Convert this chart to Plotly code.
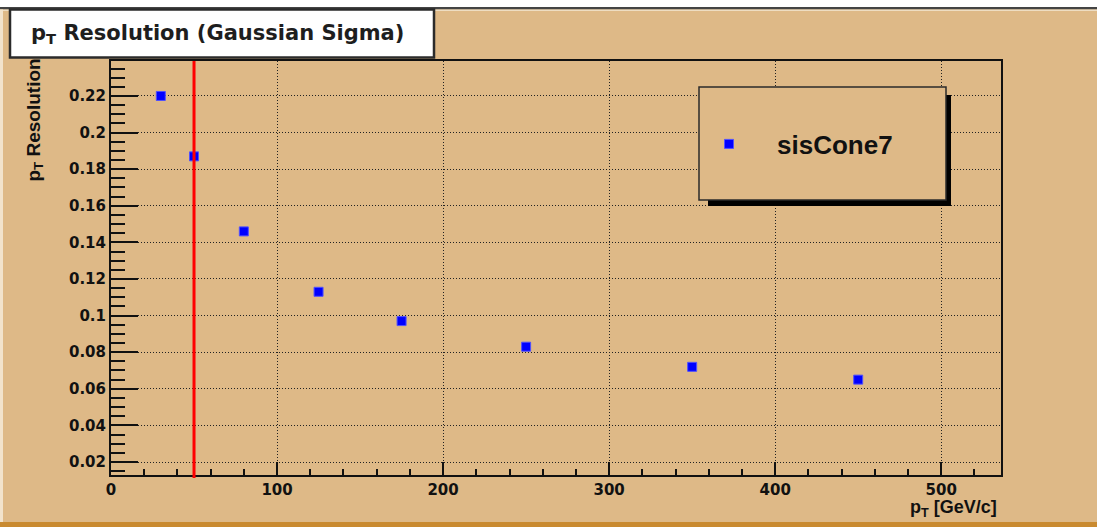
import plotly.graph_objects as go

# ---- data ----
pt_values = [30, 50, 80, 125, 175, 250, 350, 450]
resolution = [0.220, 0.187, 0.146, 0.113, 0.097, 0.083, 0.072, 0.065]
series_name = "sisCone7"
threshold_pt = 50

x_tickvals = [0, 100, 200, 300, 400, 500]
x_ticktext = ["0", "100", "200", "300", "400", "500"]
y_tickvals = [0.02, 0.04, 0.06, 0.08, 0.10, 0.12, 0.14, 0.16, 0.18, 0.20, 0.22]
y_ticktext = ["0.02", "0.04", "0.06", "0.08", "0.1", "0.12", "0.14", "0.16", "0.18", "0.2", "0.22"]

# ---- geometry helpers (pixels -> paper) ----
W_FIG, H_FIG = 1097, 527
L, R, T, B = 111, 1001, 61, 475
PW, PH = R - L, B - T


def px(xp):
    return (xp - L) / PW


def py(yp):
    return (B - yp) / PH


TAN = "#DEB987"
INK = "#111111"

fig = go.Figure()
fig.add_trace(go.Scatter(
    x=pt_values, y=resolution, mode="markers", name=series_name,
    marker=dict(symbol="square", size=9, color="#0000FF",
                line=dict(color="#5050FF", width=1)),
))

axis_common = dict(
    showline=True, linecolor="#111111", linewidth=2, mirror=True,
    ticks="inside", tickcolor="#111111", tickwidth=2,
    showgrid=True, gridcolor="#222222", gridwidth=1, griddash="1px,2px",
    zeroline=False,
    tickfont=dict(family="DejaVu Sans", size=15, color=INK, weight="bold"),
)

fig.update_xaxes(
    range=[0, 536], tickmode="array", tickvals=x_tickvals, ticktext=x_ticktext,
    ticklen=13,
    minor=dict(ticks="inside", ticklen=6, dtick=20, tick0=0,
               tickcolor="#111111", tickwidth=1.5, showgrid=False),
    **axis_common,
)
fig.update_yaxes(
    range=[0.0129, 0.2391], tickmode="array", tickvals=y_tickvals, ticktext=y_ticktext,
    ticklen=27,
    minor=dict(ticks="inside", ticklen=14, dtick=0.005, tick0=0,
               tickcolor="#111111", tickwidth=1.5, showgrid=False),
    **axis_common,
)

shapes = []
# canvas decorations
shapes.append(dict(type="rect", xref="paper", yref="paper", x0=px(0), x1=px(W_FIG),
                   y0=py(7.5), y1=py(0), fillcolor="white", line=dict(width=0), layer="above"))
shapes.append(dict(type="rect", xref="paper", yref="paper", x0=px(0), x1=px(W_FIG),
                   y0=py(9.5), y1=py(7), fillcolor="#444444", line=dict(width=0), layer="above"))
shapes.append(dict(type="rect", xref="paper", yref="paper", x0=px(0), x1=px(W_FIG),
                   y0=py(11), y1=py(9.5), fillcolor="#EEDDC2", line=dict(width=0), layer="above"))
shapes.append(dict(type="rect", xref="paper", yref="paper", x0=px(0), x1=px(3),
                   y0=py(522), y1=py(9.5), fillcolor="#F2E3CC", line=dict(width=0), layer="above"))
shapes.append(dict(type="rect", xref="paper", yref="paper", x0=px(0), x1=px(W_FIG),
                   y0=py(527), y1=py(522), fillcolor="#C98A30", line=dict(width=0), layer="above"))
# title box
shapes.append(dict(type="rect", xref="paper", yref="paper", x0=px(10), x1=px(434),
                   y0=py(57.5), y1=py(9.5), fillcolor="white",
                   line=dict(color="#2B2B2B", width=2.5), layer="above"))
# legend shadow + box
shapes.append(dict(type="rect", xref="paper", yref="paper", x0=px(708), x1=px(951),
                   y0=py(206), y1=py(95), fillcolor="black", line=dict(width=0), layer="above"))
shapes.append(dict(type="rect", xref="paper", yref="paper", x0=px(699), x1=px(946),
                   y0=py(200), y1=py(87), fillcolor=TAN,
                   line=dict(color="#2B2B2B", width=1.5), layer="above"))
# threshold line
shapes.append(dict(type="line", xref="x", yref="paper", x0=threshold_pt, x1=threshold_pt,
                   y0=py(478), y1=1, line=dict(color="#FF0000", width=3), layer="above"))

annotations = [
    dict(text="p<sub>T</sub> Resolution (Gaussian Sigma)", xref="paper", yref="paper",
         x=px(29), y=py(34), xanchor="left", yanchor="middle", showarrow=False,
         font=dict(family="DejaVu Sans", size=21, color="#1E1E1E", weight="bold")),
    dict(text="p<sub>T</sub> Resolution", xref="paper", yref="paper",
         x=px(35), y=py(57), xanchor="center", yanchor="top", textangle=-90, showarrow=False,
         font=dict(family="Liberation Sans", size=19, color=INK, weight="bold")),
    dict(text="p<sub>T</sub> [GeV/c]", xref="paper", yref="paper",
         x=px(999), y=py(509), xanchor="right", yanchor="middle", showarrow=False,
         font=dict(family="Liberation Sans", size=18, color=INK, weight="bold")),
]

fig.update_layout(
    width=W_FIG, height=H_FIG,
    margin=dict(l=L, r=W_FIG - R, t=T, b=H_FIG - B, pad=0),
    paper_bgcolor=TAN, plot_bgcolor=TAN,
    shapes=shapes, annotations=annotations,
    showlegend=True,
    legend=dict(x=px(681), y=py(144), xanchor="left", yanchor="middle",
                bgcolor="rgba(0,0,0,0)", borderwidth=0, itemwidth=86,
                font=dict(family="Liberation Sans", size=26, color=INK, weight="bold")),
)

fig.write_html("out.html")
